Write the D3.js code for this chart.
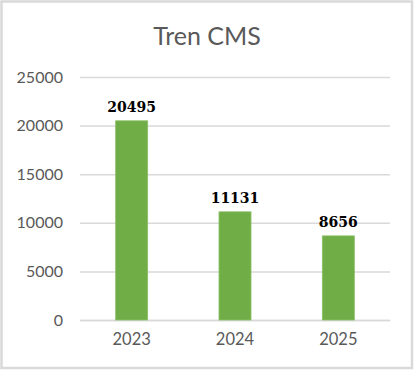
<!DOCTYPE html>
<html><head><meta charset="utf-8">
<script src="https://cdn.jsdelivr.net/npm/d3@7"></script>
<style>body{margin:0;background:#fff}svg{display:block}</style>
</head><body>
<svg id="c" width="414" height="371"></svg>
<script>
const categories = ["2023", "2024", "2025"];
const values = [20495, 11131, 8656];
const yTicks = [0, 5000, 10000, 15000, 20000, 25000];
const title = "Tren CMS";

(function () {
const svg = d3.select("#c");
svg.append("rect").attr("x", 1.5).attr("y", 1.5).attr("width", 410.5).attr("height", 366.5)
  .attr("fill", "#fff").attr("stroke", "#d9d9d9").attr("stroke-width", 2.5);

const mLeft = 80, mRight = 390, mTop = 77, mBottom = 320;
const x = d3.scaleBand().domain(categories).range([mLeft, mRight]).paddingInner(0.69).paddingOuter(0.345);
const y = d3.scaleLinear().domain([0, 25000]).range([mBottom, mTop]);

svg.append("text").attr("x", 207).attr("y", 45).attr("text-anchor", "middle")
  .attr("font-family", "Lato, 'Open Sans', sans-serif").attr("font-size", 25).attr("fill", "#595959").text(title);

const yAxis = svg.append("g").attr("transform", `translate(${mLeft},0)`)
  .call(d3.axisLeft(y).tickValues(yTicks).tickFormat(d3.format("d")).tickSize(-(mRight - mLeft)).tickPadding(17));
yAxis.select(".domain").remove();
yAxis.selectAll(".tick line").attr("stroke", "#d9d9d9").attr("stroke-width", 1.5);
yAxis.selectAll(".tick text").attr("font-family", "Lato, sans-serif").attr("font-size", 16).attr("fill", "#595959");

const xAxis = svg.append("g").attr("transform", `translate(0,${mBottom})`)
  .call(d3.axisBottom(x).tickSize(0).tickPadding(13));
xAxis.select(".domain").attr("stroke", "#d9d9d9").attr("stroke-width", 1.5);
xAxis.selectAll(".tick text").attr("font-family", "Lato, sans-serif").attr("font-size", 16.5).attr("fill", "#595959");

const data = categories.map((c, i) => ({c, v: values[i]}));
svg.append("g").selectAll("rect").data(data).join("rect")
  .attr("x", d => x(d.c)).attr("width", x.bandwidth())
  .attr("y", d => y(d.v)).attr("height", d => y(0) - y(d.v))
  .attr("fill", "#70ad47").attr("stroke", "#8cc168").attr("stroke-width", 0.8);

svg.append("g").selectAll("text").data(data).join("text")
  .attr("x", d => x(d.c) + x.bandwidth() / 2).attr("y", d => y(d.v) - 9)
  .attr("text-anchor", "middle").attr("font-family", "'DejaVu Serif', serif").attr("font-weight", "bold")
  .attr("font-size", 14).attr("fill", "#000").text(d => d.v);
})();
</script>
</body></html>
